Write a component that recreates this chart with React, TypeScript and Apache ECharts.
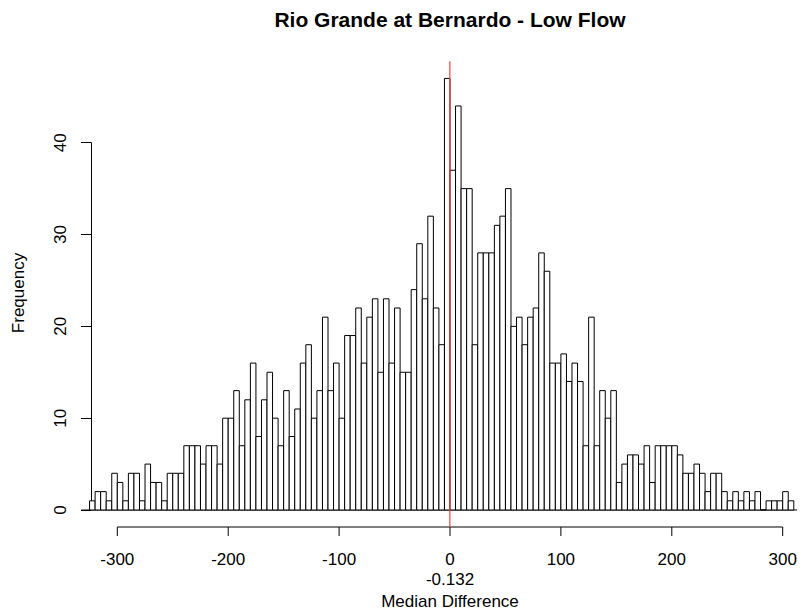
import React, { useEffect, useRef } from "react";
import * as echarts from "echarts";

// Histogram: bins of width 5 starting at -325
const BIN_START = -325;
const BIN_WIDTH = 5;
const counts = [
  1, 2, 2, 1, 4, 3, 1, 4, 4, 1,
  5, 3, 3, 1, 4, 4, 4, 7, 7, 7,
  5, 7, 7, 5, 10, 10, 13, 7, 12, 16,
  8, 12, 15, 10, 7, 13, 8, 11, 16, 18,
  10, 13, 21, 13, 16, 10, 19, 19, 22, 16,
  21, 23, 15, 23, 16, 22, 15, 15, 24, 29,
  23, 32, 22, 18, 47, 37, 44, 35, 35, 18,
  28, 28, 28, 31, 32, 35, 20, 21, 18, 21,
  22, 28, 26, 16, 16, 17, 14, 16, 14, 7,
  21, 7, 13, 10, 13, 3, 5, 6, 6, 5,
  7, 3, 7, 7, 7, 7, 6, 4, 4, 5,
  4, 2, 4, 4, 2, 1, 2, 1, 2, 1,
  2, 0, 1, 1, 1, 2, 1,
];
const medianDiff = -0.132;
const xTicks = [-300, -200, -100, 0, 100, 200, 300];
const yTicks = [0, 10, 20, 30, 40];
const plotYRange = [-1.88, 48.88];
const baselineRange = [-332.5, 313];

const TITLE = "Rio Grande at Bernardo - Low Flow";
const X_LABEL = "Median Difference";
const Y_LABEL = "Frequency";
const FONT = "'Liberation Sans', Arial, sans-serif";

const X_AXIS_OFFSET = 17; // px below the y=0 baseline
const X_TICK_LEN = 9;

export default function App() {
  const ref = useRef<HTMLDivElement>(null);

  useEffect(() => {
    if (!ref.current) return;
    const chart = echarts.init(ref.current, undefined, { renderer: "svg" });
    const histData = counts.map((c, i) => [
      BIN_START + i * BIN_WIDTH,
      BIN_START + (i + 1) * BIN_WIDTH,
      c,
    ]);

    chart.setOption({
      animation: false,
      backgroundColor: "#ffffff",
      textStyle: { fontFamily: FONT },
      grid: { left: 117.3, right: 23.3, top: 142.7, bottom: 102, containLabel: false },
      xAxis: {
        type: "value",
        position: "bottom",
        min: xTicks[0],
        max: xTicks[xTicks.length - 1],
        interval: 100,
        offset: X_AXIS_OFFSET,
        axisLine: { show: false, onZero: false },
        axisTick: { show: false },
        axisLabel: { color: "#000", fontSize: 17, fontFamily: FONT, margin: 24 },
        splitLine: { show: false },
      },
      yAxis: {
        type: "value",
        min: yTicks[0],
        max: yTicks[yTicks.length - 1],
        interval: 10,
        offset: 26.3,
        axisLine: { show: true, onZero: false, lineStyle: { color: "#000", width: 1 } },
        axisTick: { show: true, length: 10, lineStyle: { color: "#000" } },
        axisLabel: { color: "#000", fontSize: 17, fontFamily: FONT, rotate: 90, margin: 22 },
        splitLine: { show: false },
      },
      series: [
        {
          type: "custom",
          name: "baseline",
          clip: false,
          silent: true,
          data: [[baselineRange[0], baselineRange[1], 0]],
          encode: { x: [0, 1], y: 2 },
          renderItem: (params: any, api: any) => {
            const p0 = api.coord([api.value(0), api.value(2)]);
            const p1 = api.coord([api.value(1), api.value(2)]);
            return {
              type: "line",
              shape: { x1: p0[0], y1: p0[1], x2: p1[0], y2: p1[1] },
              style: { stroke: "#000", lineWidth: 1 },
            };
          },
        },
        {
          // x axis line + ticks (R style, offset below the plot)
          type: "custom",
          name: "xaxis",
          clip: false,
          silent: true,
          data: [[xTicks[0], xTicks[xTicks.length - 1], 0]],
          encode: { x: [0, 1], y: 2 },
          renderItem: (params: any, api: any) => {
            const p0 = api.coord([api.value(0), 0]);
            const p1 = api.coord([api.value(1), 0]);
            const y = p0[1] + X_AXIS_OFFSET;
            const children: any[] = [
              {
                type: "line",
                shape: { x1: p0[0], y1: y, x2: p1[0], y2: y },
                style: { stroke: "#000", lineWidth: 1 },
              },
            ];
            xTicks.forEach((t) => {
              const px = api.coord([t, 0])[0];
              children.push({
                type: "line",
                shape: { x1: px, y1: y, x2: px, y2: y + X_TICK_LEN },
                style: { stroke: "#000", lineWidth: 1 },
              });
            });
            return { type: "group", children };
          },
        },
        {
          type: "custom",
          name: "hist",
          clip: false,
          data: histData,
          encode: { x: [0, 1], y: 2 },
          renderItem: (params: any, api: any) => {
            const p0 = api.coord([api.value(0), 0]);
            const p1 = api.coord([api.value(1), api.value(2)]);
            return {
              type: "rect",
              shape: { x: p0[0], y: p1[1], width: p1[0] - p0[0], height: p0[1] - p1[1] },
              style: { fill: "#ffffff", stroke: "#000", lineWidth: 1 },
            };
          },
        },
        {
          type: "custom",
          name: "median",
          clip: false,
          silent: true,
          data: [[medianDiff, plotYRange[0], plotYRange[1]]],
          encode: { x: 0, y: [1, 2] },
          renderItem: (params: any, api: any) => {
            const p0 = api.coord([api.value(0), api.value(1)]);
            const p1 = api.coord([api.value(0), api.value(2)]);
            return {
              type: "line",
              shape: { x1: p0[0], y1: p0[1], x2: p1[0], y2: p1[1] },
              style: { stroke: "#ff3b3b", lineWidth: 1.2 },
            };
          },
        },
      ],
      graphic: [
        {
          type: "text",
          x: 450,
          y: 19,
          style: {
            text: TITLE,
            fontSize: 21,
            fontWeight: "bold",
            fontFamily: FONT,
            fill: "#000",
            textAlign: "center",
            textVerticalAlign: "middle",
          },
        },
        {
          type: "text",
          x: 450,
          y: 579,
          style: {
            text: String(medianDiff),
            fontSize: 17,
            fontFamily: FONT,
            fill: "#000",
            textAlign: "center",
            textVerticalAlign: "middle",
          },
        },
        {
          type: "text",
          x: 450,
          y: 601,
          style: {
            text: X_LABEL,
            fontSize: 17,
            fontFamily: FONT,
            fill: "#000",
            textAlign: "center",
            textVerticalAlign: "middle",
          },
        },
        {
          type: "text",
          x: 18,
          y: 293,
          rotation: Math.PI / 2,
          style: {
            text: Y_LABEL,
            fontSize: 17,
            fontFamily: FONT,
            fill: "#000",
            textAlign: "center",
            textVerticalAlign: "middle",
          },
        },
      ],
    });

    return () => chart.dispose();
  }, []);

  return (
    <div
      ref={ref}
      style={{ position: "fixed", left: 0, top: 0, width: 806, height: 612, background: "#fff" }}
    />
  );
}
